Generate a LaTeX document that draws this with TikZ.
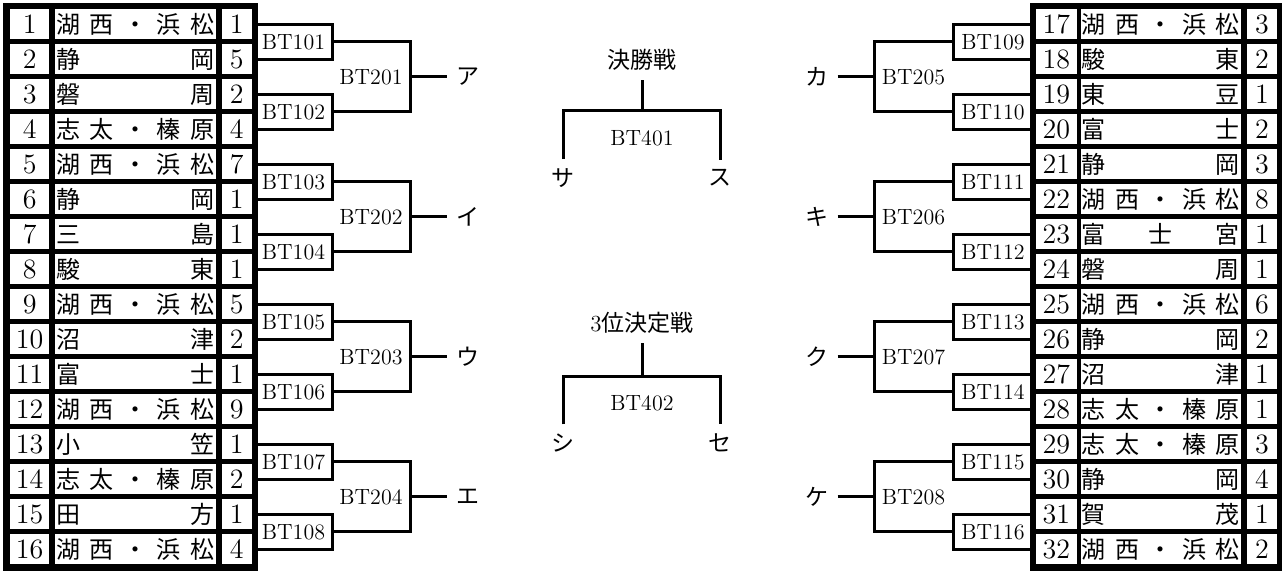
\documentclass[tikz,border=0pt]{standalone}
\usepackage{fontspec}
\newfontfamily\jp{Noto Sans CJK JP}
\usetikzlibrary{positioning}
\newcommand\hf{\hfill}
\newcommand\kohama{湖\hf 西\hf ・\hf 浜\hf 松}
\newcommand\shihai{志\hf 太\hf ・\hf 榛\hf 原}

\begin{document}
\begin{tikzpicture}[
    x=0.5pt, y=-0.5pt,
    line width=1.5pt,
    num/.style={inner sep=0, font=\fontsize{14}{14}\selectfont},
    team/.style={inner sep=0, font=\fontsize{12}{12}\selectfont\jp},
    match/.style={rectangle, draw, minimum height=17.5pt, inner sep=0,
                  outer sep=0, font=\fontsize{11}{11}\selectfont},
    tag/.style={font=\fontsize{11}{11}\selectfont},
    kana/.style={inner sep=4pt, font=\fontsize{11.5}{11.5}\selectfont\jp}
]
    \useasboundingbox (0,0) rectangle (1282,572);

    % Left table
    \fill (3.3,3.3) rectangle (258.3,571);
    \foreach \n/\nm/\s [count=\k from 0] in {1/\kohama/1, 2/{静\hf 岡}/5,
        3/{磐\hf 周}/2, 4/\shihai/4, 5/\kohama/7, 6/{静\hf 岡}/1,
        7/{三\hf 島}/1, 8/{駿\hf 東}/1, 9/\kohama/5, 10/{沼\hf 津}/2,
        11/{富\hf 士}/1, 12/\kohama/9, 13/{小\hf 笠}/1, 14/\shihai/2,
        15/{田\hf 方}/1, 16/\kohama/4}{
        \pgfmathsetmacro\yt{9.3+35*\k}
        \fill[white] (10,\yt) rectangle (49.3,\yt+30);
        \fill[white] (55,\yt) rectangle (216,\yt+30);
        \fill[white] (221.7,\yt) rectangle (251.7,\yt+30);
        \node[num]  (ln\n) at (29.65,\yt+15) {\n};
        \node[team] (lt\n) at (135.5,\yt+15) {\makebox[79pt]{\nm}};
        \node[num]  (ls\n) at (236.7,\yt+15) {\s};
    }

    % Right table
    \fill (1030,3.3) rectangle (1285,571);
    \foreach \n/\nm/\s [count=\k from 0] in {17/\kohama/3, 18/{駿\hf 東}/2,
        19/{東\hf 豆}/1, 20/{富\hf 士}/2, 21/{静\hf 岡}/3, 22/\kohama/8,
        23/{富\hf 士\hf 宮}/1, 24/{磐\hf 周}/1, 25/\kohama/6, 26/{静\hf 岡}/2,
        27/{沼\hf 津}/1, 28/\shihai/1, 29/\shihai/3, 30/{静\hf 岡}/4,
        31/{賀\hf 茂}/1, 32/\kohama/2}{
        \pgfmathsetmacro\yt{9.3+35*\k}
        \fill[white] (1036,\yt) rectangle (1076.7,\yt+30);
        \fill[white] (1080.7,\yt) rectangle (1240.7,\yt+30);
        \fill[white] (1246.7,\yt) rectangle (1277.3,\yt+30);
        \node[num]  (rn\n) at (1056.35,\yt+15) {\n};
        \node[team] (rt\n) at (1160.7,\yt+15) {\makebox[79pt]{\nm}};
        \node[num]  (rs\n) at (1262,\yt+15) {\s};
    }

    % First round
    \foreach \i in {0,...,7}{
        \pgfmathtruncatemacro\a{101+\i}
        \pgfmathtruncatemacro\b{109+\i}
        \node[match, minimum width=38.5pt] (m\a) at (293.5,41.8+70*\i) {BT\a};
        \node[match, minimum width=40pt]   (m\b) at (993,41.8+70*\i)   {BT\b};
    }

    % Second round
    \foreach \j/\wl/\wr in {0/ア/カ, 1/イ/キ, 2/ウ/ク, 3/エ/ケ}{
        \pgfmathtruncatemacro\a{101+2*\j}
        \pgfmathtruncatemacro\aa{102+2*\j}
        \pgfmathtruncatemacro\b{109+2*\j}
        \pgfmathtruncatemacro\bb{110+2*\j}
        \pgfmathtruncatemacro\c{201+\j}
        \pgfmathtruncatemacro\d{205+\j}
        \pgfmathsetmacro\ym{76.8+140*\j}
        \coordinate (j\c) at (410,\ym);
        \coordinate (j\d) at (874,\ym);
        \draw (m\a.east) -| (j\c) |- (m\aa.east);
        \draw (m\b.west) -| (j\d) |- (m\bb.west);
        \node[tag]  (t\c) at (371,\ym)   {BT\c};
        \node[tag]  (t\d) at (913.5,\ym) {BT\d};
        \node[kana] (w\c) at (467.5,\ym) {\wl};
        \node[kana] (w\d) at (816.5,\ym) {\wr};
        \draw (j\c) -- (w\c.west);
        \draw (w\d.east) -- (j\d);
    }

    % Final and third place
    \node[kana] (fin) at (642,60) {決勝戦};
    \coordinate (f401) at (642,111);
    \node[tag]  (t401) at (642,138) {BT401};
    \node[kana] (sa) at (563,178) {サ};
    \node[kana] (su) at (720,178) {ス};
    \draw (fin.south) -- (f401);
    \draw (sa.north) |- (f401) -| (su.north);

    \node[kana] (thr) at (642,323) {{\normalfont 3}位決定戦};
    \coordinate (f402) at (642,377);
    \node[tag]  (t402) at (642,403) {BT402};
    \node[kana] (shi) at (563,443) {シ};
    \node[kana] (se) at (720,443) {セ};
    \draw (thr.south) -- (f402);
    \draw (shi.north) |- (f402) -| (se.north);
\end{tikzpicture}
\end{document}
